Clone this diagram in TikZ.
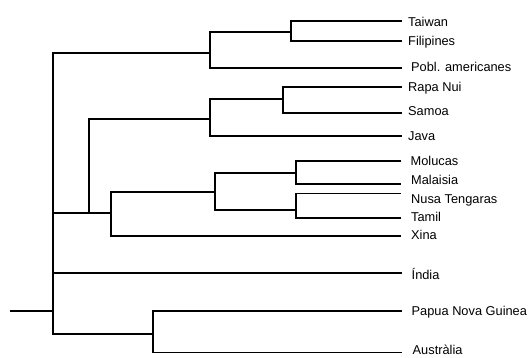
\documentclass[tikz,border=0pt]{standalone}
\usepackage{fontspec}
\setmainfont{Liberation Sans}
\begin{document}
\begin{tikzpicture}[x=1pt,y=-1pt,
  branch/.style={line width=1.7pt,line join=miter},
  leaf/.style={anchor=base west,inner sep=0pt,font=\fontsize{12.8}{14}\selectfont}]
\useasboundingbox (0,0) rectangle (531,357);
% tips
\coordinate (tTai) at (402,21);
\coordinate (tFil) at (402,41);
\coordinate (tPob) at (402,68);
\coordinate (tRap) at (402,87);
\coordinate (tSam) at (402,113);
\coordinate (tJav) at (402,136);
\coordinate (tMol) at (401,161);
\coordinate (tMal) at (401,184);
\coordinate (tNus) at (401,193.5);
\coordinate (tTam) at (401,218);
\coordinate (tXin) at (401,236);
\coordinate (tInd) at (402,273);
\coordinate (tPap) at (402,311);
\coordinate (tAus) at (402,352.5);
% internal nodes
\coordinate (TF) at (291,32);
\coordinate (TFP) at (210,53);
\coordinate (RS) at (283,99);
\coordinate (RSJ) at (210,119);
\coordinate (MM) at (296,173);
\coordinate (NT) at (296,210);
\coordinate (MMNT) at (215,192);
\coordinate (MX) at (111,213);
\coordinate (RM) at (89,213);
\coordinate (PA) at (153,334);
\coordinate (root) at (53,311);
\coordinate (stem) at (10,311);
% labels
\node[leaf] (lTai) at (408,26) {Taiwan};
\node[leaf] (lFil) at (408,45) {Filipines};
\node[leaf] (lPob) at (411,71.7) {Pobl. americanes};
\node[leaf] (lRap) at (408,91.7) {Rapa Nui};
\node[leaf] (lSam) at (408,115) {Samoa};
\node[leaf] (lJav) at (408,140) {Java};
\node[leaf] (lMol) at (410.5,165.7) {Molucas};
\node[leaf] (lMal) at (411,184) {Malaisia};
\node[leaf] (lNus) at (411,203.3) {Nusa Tengaras};
\node[leaf] (lTam) at (411,221) {Tamil};
\node[leaf] (lXin) at (411,239) {Xina};
\node[leaf] (lInd) at (411.5,279) {Índia};
\node[leaf] (lPap) at (411.5,315.7) {Papua Nova Guinea};
\node[leaf] (lAus) at (412.5,354) {Austràlia};
% branches
\draw[branch] (TF) |- (tTai);
\draw[branch] (TF) |- (tFil);
\draw[branch] (TFP) |- (TF);
\draw[branch] (TFP) |- (tPob);
\draw[branch] (RS) |- (tRap);
\draw[branch] (RS) |- (tSam);
\draw[branch] (RSJ) |- (RS);
\draw[branch] (RSJ) |- (tJav);
\draw[branch] (MM) |- (tMol);
\draw[branch] (MM) |- (tMal);
\draw[branch] (NT) |- (tNus);
\draw[branch] (NT) |- (tTam);
\draw[branch] (MMNT) |- (MM);
\draw[branch] (MMNT) |- (NT);
\draw[branch] (MX) |- (MMNT);
\draw[branch] (MX) |- (tXin);
\draw[branch] (RM) |- (RSJ);
\draw[branch] (RM) -- (MX);
\draw[branch] (PA) |- (tPap);
\draw[branch] (PA) |- (tAus);
\draw[branch] (root) |- (TFP);
\draw[branch] (root) |- (RM);
\draw[branch] (root) |- (tInd);
\draw[branch] (root) |- (PA);
\draw[branch] (stem) -- (root);
\end{tikzpicture}
\end{document}
